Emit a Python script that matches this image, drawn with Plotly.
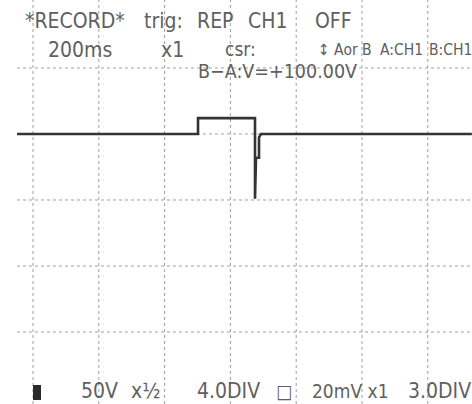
import plotly.graph_objects as go

# Recorded waveform, CH1 (time in ms at 200 ms/div, level in divisions)
time_ms = [-48.6, 501.6, 501.6, 674.8, 674.8, 677.8, 677.8, 687.0, 687.0, 693.0, 1334.0]
level_div = [0.0, 0.0, 0.24, 0.24, -0.98, -0.58, -0.36, -0.36, -0.05, 0.0, 0.0]

# Graticule
grid_x = [0, 200, 400, 600, 800, 1000, 1200]
grid_y = [1, 0, -1, -2, -3]
grid_y_start = -48.6

W, H = 472, 404
X_RANGE = [-100.3, 1334.4]
Y_RANGE = [-4.091, 2.030]

# Screen annotations: text, left px, right px, centre y px, font size
header_items = [
    ("*RECORD*", 23, 127, 20.5, 21),
    ("trig:", 141, 185, 20.5, 21),
    ("REP", 197, 232, 20.5, 21),
    ("CH1", 249, 285, 20.5, 21),
    ("OFF", 317, 349, 20.5, 21),
    ("200ms", 47, 112, 50, 21),
    ("x1", 162, 182, 50, 21),
    ("csr:", 216, 265, 49, 19),
    ("↕ Aor B", 318, 372, 50, 15.5),
    ("A:CH1", 379, 423, 50, 15.5),
    ("B:CH1", 428, 472, 50, 15.5),
    ("B−A:V=+100.00V", 189, 366, 72, 19.5),
]
footer_items = [
    ("50V", 83, 115, 391, 21),
    ("x½", 133, 158, 391, 21),
    ("4.0DIV", 190, 266, 391, 21),
    ("□", 278, 290, 391, 19),
    ("20mV x1", 316, 384, 391, 19),
    ("3.0DIV", 409, 469, 391, 21),
]

TEXT_COLOR = "#606060"
FONT = "Liberation Sans Narrow, DejaVu Sans Condensed, Liberation Sans, sans-serif"

fig = go.Figure()
fig.add_trace(go.Scatter(
    x=time_ms, y=level_div, mode="lines",
    line=dict(color="#333333", width=2.6),
    hoverinfo="skip", showlegend=False,
))

shapes = []
for gx in grid_x:
    shapes.append(dict(type="line", xref="x", yref="paper", x0=gx, x1=gx, y0=0, y1=1,
                       line=dict(color="#a0a0a0", width=1, dash="dot"), layer="below"))
for gy in grid_y:
    shapes.append(dict(type="line", xref="x", yref="y", x0=grid_y_start, x1=X_RANGE[1], y0=gy, y1=gy,
                       line=dict(color="#a0a0a0", width=1, dash="dot"), layer="below"))
# filled channel marker at bottom left
shapes.append(dict(type="rect", xref="paper", yref="paper",
                   x0=33 / W, x1=41 / W, y0=1 - 400 / H, y1=1 - 385 / H,
                   fillcolor="#2a2a2a", line=dict(width=0)))

annotations = []
for text, xl, xr, yc, size in header_items + footer_items:
    annotations.append(dict(
        text=text, xref="paper", yref="paper",
        x=(xl + xr) / 2 / W, y=1 - yc / H, xanchor="center", yanchor="middle",
        showarrow=False, font=dict(family=FONT, size=size, color=TEXT_COLOR),
    ))

fig.update_layout(
    width=W, height=H,
    margin=dict(l=0, r=0, t=0, b=0),
    paper_bgcolor="white", plot_bgcolor="white",
    xaxis=dict(range=X_RANGE, visible=False, fixedrange=True),
    yaxis=dict(range=Y_RANGE, visible=False, fixedrange=True),
    shapes=shapes, annotations=annotations,
)

fig.write_html("out.html")
